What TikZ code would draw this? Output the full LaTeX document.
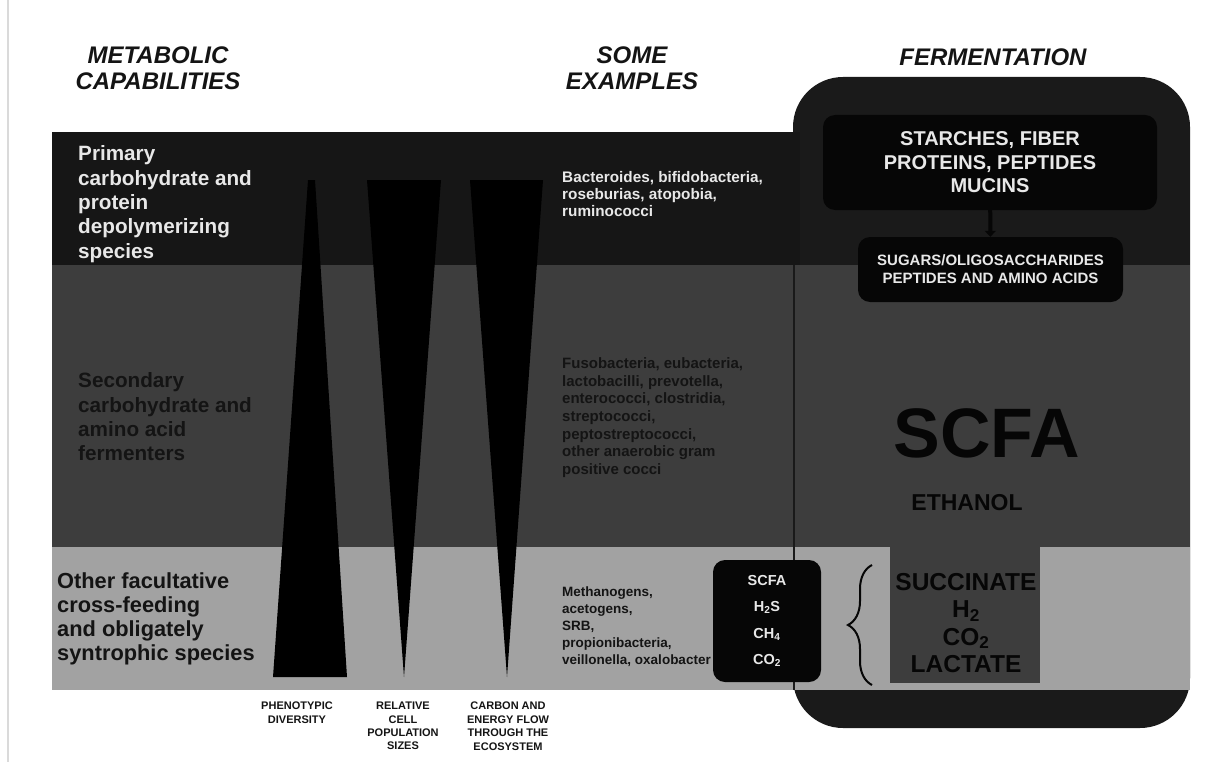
\documentclass[tikz,border=0pt]{standalone}
\usepackage{fontspec}
\setmainfont{Liberation Sans}
\usetikzlibrary{arrows.meta,decorations.pathreplacing}
\definecolor{bandtop}{RGB}{22,22,22}
\definecolor{bandmid}{RGB}{61,61,61}
\definecolor{bandlow}{RGB}{162,162,162}
\definecolor{panelblack}{RGB}{26,26,26}
\definecolor{boxblack}{RGB}{6,6,6}
\definecolor{inkdark}{RGB}{20,20,20}
\definecolor{inklight}{RGB}{232,232,232}
\definecolor{edgegray}{RGB}{218,218,218}
\tikzset{
  header/.style={font=\fontsize{24}{26.5}\selectfont\bfseries\itshape,align=center,text=inkdark,inner sep=0pt},
  guildtext/.style={font=\fontsize{20.7}{24.3}\selectfont\bfseries,align=left,anchor=north west,inner sep=0pt},
  exampletext/.style={font=\fontsize{15}{17.6}\selectfont\bfseries,align=left,anchor=north west,inner sep=0pt},
  axislabel/.style={font=\fontsize{11}{13.4}\selectfont\bfseries,align=center,anchor=north,inner sep=0pt,text=inkdark},
  productbox/.style={fill=boxblack,rounded corners=12pt,text=inklight,align=center,inner sep=0pt},
}

\begin{document}
\begin{tikzpicture}[x=1pt,y=-1pt]
\useasboundingbox (0,0) rectangle (1230,762);
\draw[edgegray,line width=1.5pt] (8,0) -- (8,762);
%% Fermentation panel, then the three bands over it
\fill[panelblack,rounded corners=50pt] (793,77) rectangle (1190,728);
\fill[bandtop] (52,132) rectangle (800,265);
\fill[bandmid] (52,265) rectangle (1190,547);
\fill[bandlow] (52,547) rectangle (1190,690);
\draw[panelblack,line width=2.5pt] (794,265) -- (794,690);
%% Wedges
\fill[black] (308,180) -- (315,180) -- (347,677) -- (273,677) -- cycle;
\fill[black] (367,180) -- (441,180) -- (404,677) -- cycle;
\fill[black] (470,180) -- (543,180) -- (507,677) -- cycle;
%% Column headers
\node[header] (hdmeta) at (158,68) {METABOLIC\\CAPABILITIES};
\node[header] (hdexam) at (632,68) {SOME\\EXAMPLES};
\node[header] (hdferm) at (993,57) {FERMENTATION};
%% Guild labels
\node[guildtext,text=inklight] (guild1) at (78,145.7)
  {Primary\\carbohydrate and\\protein\\depolymerizing\\species};
\node[guildtext,text=inkdark] (guild2) at (78,372.7)
  {Secondary\\carbohydrate and\\amino acid\\fermenters};
\node[guildtext,text=inkdark,font=\fontsize{21.8}{24.2}\selectfont\bfseries] (guild3) at (57,572.3)
  {Other facultative\\cross-feeding\\and obligately\\syntrophic species};
%% Examples
\node[exampletext,text=inklight,font=\fontsize{15.3}{17}\selectfont\bfseries] (ex1) at (562,171.5)
  {Bacteroides, bifidobacteria,\\roseburias, atopobia,\\ruminococci};
\node[exampletext,text=inkdark] (ex2) at (562,357.6)
  {Fusobacteria, eubacteria,\\lactobacilli, prevotella,\\enterococci, clostridia,\\streptococci,\\peptostreptococci,\\other anaerobic gram\\positive cocci};
\node[exampletext,text=inkdark,font=\fontsize{13.5}{17}\selectfont\bfseries] (ex3) at (562,586.2)
  {Methanogens,\\acetogens,\\SRB,\\propionibacteria,\\veillonella, oxalobacter};
%% Wedge labels
\node[axislabel] (lab1) at (297,702) {PHENOTYPIC\\DIVERSITY};
\node[axislabel] (lab2) at (403,702) {RELATIVE\\CELL\\POPULATION\\SIZES};
\node[axislabel] (lab3) at (508,702) {CARBON AND\\ENERGY FLOW\\THROUGH THE\\ECOSYSTEM};
%% Fermentation products
\node[productbox,minimum width=334pt,minimum height=95pt,font=\fontsize{20}{23.5}\selectfont\bfseries] (substrates) at (990,162.5)
  {STARCHES, FIBER\\PROTEINS, PEPTIDES\\MUCINS};
\node[productbox,minimum width=265pt,minimum height=65pt,font=\fontsize{15}{18}\selectfont\bfseries] (monomers) at (990.5,269.5)
  {SUGARS/OLIGOSACCHARIDES\\PEPTIDES AND AMINO ACIDS};
\draw[boxblack,line width=4pt,-{Triangle[width=11pt,length=6pt]}] (substrates) -- (monomers);
\node[font=\fontsize{70}{70}\selectfont\bfseries,text=boxblack,inner sep=0pt] (scfa) at (987,433) {SCFA};
\node[font=\fontsize{23}{23}\selectfont\bfseries,text=boxblack,inner sep=0pt] (ethanol) at (967,503) {ETHANOL};
\node[productbox,minimum width=108pt,minimum height=122pt,font=\fontsize{14.5}{26.3}\selectfont\bfseries] (endprod) at (767,621)
  {SCFA\\H\textsubscript{2}S\\CH\textsubscript{4}\\CO\textsubscript{2}};
\fill[bandmid] (890,547) rectangle (1040,683);
\node[font=\fontsize{24.5}{27.3}\selectfont\bfseries,text=boxblack,align=center,inner sep=0pt] (interprod) at (966,623)
  {SUCCINATE\\H\textsubscript{2}\\CO\textsubscript{2}\\LACTATE};
\coordinate (bracelow) at (872,685);
\coordinate (bracehigh) at (872,565);
\draw[boxblack,line width=2pt,decorate,decoration={brace,amplitude=24pt}] (bracelow) -- (bracehigh);
\end{tikzpicture}
\end{document}
